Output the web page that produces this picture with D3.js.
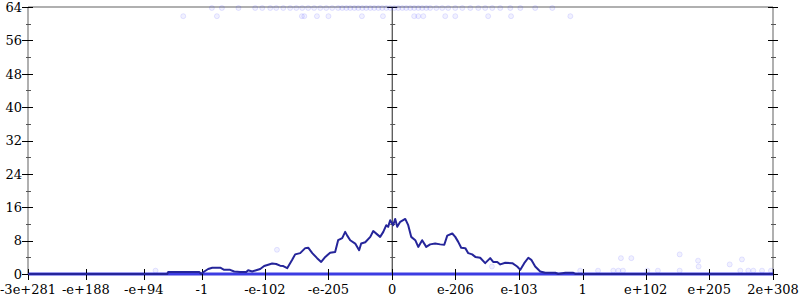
<!DOCTYPE html>
<html>
<head>
<meta charset="utf-8">
<script src="https://cdn.jsdelivr.net/npm/d3@7"></script>
<style>
  body { margin: 0; background: #fff; }
  svg text { font-family: "DejaVu Serif", serif; font-size: 13px; fill: #000; }
</style>
</head>
<body>
<svg id="chart" width="800" height="300"></svg>
<script>
// x is a signed exponent coordinate: 0 at zero, +/-1024 at +/-1
const xTickPos = [-1959, -1648, -1336, -1024, -685, -343, 0, 340, 682, 1024, 1363, 1705, 2048];
const xTickLabels = ["-3e+281", "-e+188", "-e+94", "-1", "-e-102", "-e-205", "0",
                     "e-206", "e-103", "1", "e+102", "e+205", "2e+308"];
const yMajor = [0, 8, 16, 24, 32, 40, 48, 56, 64];
const yMinor = [4, 12, 20, 28, 36, 44, 52, 60];

// main curve
const curveX = [-1959, -1210, -1205, -1038, -1028, -1011, -990, -968, -925, -904, -872, -850, -818, -785,
  -775, -753, -732, -710, -689, -667, -646, -624, -603, -586, -565, -538, -522, -495, -468, -452, -430,
  -404, -382, -360, -334, -307, -291, -269, -253, -242, -226, -199, -178, -167, -145, -118, -102, -81,
  -65, -48, -32, -22, -11, 5, 16, 27, 43, 70, 86, 102, 124, 140, 161, 183, 204, 231, 258, 280, 296, 323,
  339, 355, 371, 393, 409, 430, 447, 473, 500, 527, 543, 565, 581, 608, 646, 672, 689, 710, 732, 748,
  769, 796, 823, 877, 893, 931, 974, 985, 2048];
const curveY = [0, 0, 0.5, 0.5, 0, 0.6, 1.2, 1.5, 1.5, 1.0, 1.0, 0.6, 0.5, 0.5,
  0.9, 0.6, 0.9, 1.2, 1.9, 2.2, 2.5, 2.4, 2.0, 1.9, 1.4, 3.4, 4.7, 5.0, 6.2, 6.3, 5.0,
  3.8, 2.9, 4.1, 5.1, 5.3, 8.1, 8.6, 10.1, 9.2, 8.1, 7.3, 5.7, 7.3, 7.6, 8.9, 10.3, 9.5,
  8.9, 10.1, 11.7, 11.3, 12.9, 11.7, 13.2, 11.3, 12.5, 13.2, 11.7, 8.9, 8.1, 6.5, 8.1, 6.5, 7.1, 7.3, 7.1, 7.0, 9.2, 9.7,
  8.9, 7.7, 6.3, 6.2, 5.0, 4.7, 4.1, 3.9, 2.6, 3.8, 2.9, 2.9, 2.3, 2.7, 2.6, 1.8, 1.0, 2.6, 3.9, 3.4,
  1.8, 0.6, 0.3, 0.3, 0, 0.3, 0.3, 0, 0];

// faint samples
const zeroSamplesX = [-1959, 2048];
const topRowX = [-970, -916, -827, -737, -699, -656, -624, -586, -549, -516, -484, -452, -420, -387,
  -355, -323, -291, -269, -247, -226, -204, -183, -161, -140, -118, -97, -75, -54, -32, -11, 11, 32,
  54, 75, 97, 118, 140, 161, 183, 204, 237, 269, 301, 339, 377, 420, 463, 500, 538, 581, 635, 689, 769, 861];
const secondRowX = [-1124, -943, -486, -473, -405, -343, -163, -50, 118, 140, 167, 285, 339, 516, 639, 958];
const scatterX = [-620, -1273, 536, 1230, 1286, 1546, 1645, 1648, 1815, 1881,
  1011, 1107, 1189, 1216, 1241, 1372, 1429, 1546, 1872, 1915, 1942, 1989, 2037];
const scatterY = [5.8, 0.8, 1.8, 3.8, 3.8, 4.7, 3.2, 1.8, 2.3, 3.5,
  0.8, 0.8, 0.8, 0.8, 0.8, 0.8, 0.8, 0.8, 0.8, 0.8, 0.8, 0.8, 0.8];

const svg = d3.select('#chart');
const plotLeft = 28, plotRight = 773, plotTop = 7, plotBottom = 274;

const x = d3.scaleLinear().domain([-1959, 2048]).range([plotLeft, plotRight]);
const y = d3.scaleLinear().domain([0, 64]).range([plotBottom, plotTop]);

// frame lines
svg.append('line').attr('x1', plotLeft).attr('x2', plotRight).attr('y1', plotTop).attr('y2', plotTop)
  .attr('stroke', '#b0b0b0').attr('stroke-width', 2);
svg.append('line').attr('x1', plotLeft).attr('x2', plotRight).attr('y1', plotBottom).attr('y2', plotBottom)
  .attr('stroke', '#b0b0b0').attr('stroke-width', 2);
[plotLeft, plotRight].forEach(px => {
  svg.append('line').attr('x1', px).attr('x2', px).attr('y1', plotTop).attr('y2', plotBottom + 1)
    .attr('stroke', '#b0b0b0').attr('stroke-width', 2);
});
svg.append('line').attr('x1', x(0)).attr('x2', x(0)).attr('y1', plotTop).attr('y2', plotBottom)
  .attr('stroke', '#222').attr('stroke-width', 1);

// y ticks on left, centre and right axes
const vAxes = [
  { px: plotLeft, maj: [-6, 5], min: [-2, 3] },
  { px: x(0), maj: [-5, 5], min: [-2, 3] },
  { px: plotRight, maj: [-5, 5], min: [-2, 3] }
];
vAxes.forEach(a => {
  svg.append('g').selectAll('line').data(yMajor).join('line')
    .attr('x1', a.px + a.maj[0]).attr('x2', a.px + a.maj[1])
    .attr('y1', d => Math.round(y(d)) + 0.5).attr('y2', d => Math.round(y(d)) + 0.5)
    .attr('stroke', '#000').attr('stroke-width', 1);
  svg.append('g').selectAll('line').data(yMinor).join('line')
    .attr('x1', a.px + a.min[0]).attr('x2', a.px + a.min[1])
    .attr('y1', d => Math.round(y(d)) + 0.5).attr('y2', d => Math.round(y(d)) + 0.5)
    .attr('stroke', '#555').attr('stroke-width', 1);
});

svg.append('g').selectAll('text').data(yMajor).join('text')
  .attr('x', 22).attr('y', d => y(d) + 4.8)
  .attr('text-anchor', 'end')
  .text(d => d);

// faint sample dots
const dotStyle = sel => sel
  .attr('r', 2.5)
  .attr('fill', 'rgba(60,60,255,0.07)')
  .attr('stroke', 'rgba(60,60,255,0.12)')
  .attr('stroke-width', 1);

svg.append('g').selectAll('circle').data(topRowX).join('circle')
  .attr('cx', d => x(d)).attr('cy', y(64) + 1).call(dotStyle);
svg.append('g').selectAll('circle').data(secondRowX).join('circle')
  .attr('cx', d => x(d)).attr('cy', y(61.8)).call(dotStyle);
svg.append('g').selectAll('circle').data(scatterX).join('circle')
  .attr('cx', d => x(d)).attr('cy', (d, i) => y(scatterY[i])).call(dotStyle);

// dense samples along zero
svg.append('line')
  .attr('x1', x(zeroSamplesX[0])).attr('x2', x(zeroSamplesX[1]))
  .attr('y1', y(0)).attr('y2', y(0))
  .attr('stroke', '#3c3ce2').attr('stroke-width', 3);

// x ticks and labels
svg.append('g').selectAll('line').data(xTickPos).join('line')
  .attr('x1', d => Math.round(x(d)) + 0.5).attr('x2', d => Math.round(x(d)) + 0.5)
  .attr('y1', plotBottom - 5).attr('y2', plotBottom + 6)
  .attr('stroke', '#000').attr('stroke-width', 1);
svg.append('g').selectAll('text').data(xTickPos).join('text')
  .attr('x', d => x(d)).attr('y', 294)
  .attr('text-anchor', 'middle')
  .text((d, i) => xTickLabels[i]);

// main curve
const line = d3.line()
  .x((d, i) => x(curveX[i]))
  .y(d => y(d));
svg.append('path')
  .datum(curveY)
  .attr('d', line)
  .attr('fill', 'none')
  .attr('stroke', '#25259a')
  .attr('stroke-width', 2)
  .attr('stroke-linejoin', 'round');
</script>
</body>
</html>
